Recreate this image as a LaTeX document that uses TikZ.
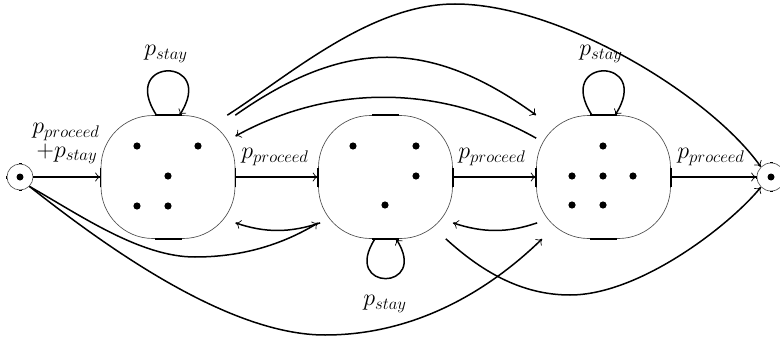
\documentclass[tikz,border=0pt]{standalone}
\usepackage{fix-cm}
\usetikzlibrary{arrows.meta,calc}
\tikzset{
  statebox/.style={draw=black!70, line width=0.65pt, rounded corners=52pt,
    minimum width=134pt, minimum height=123pt, inner sep=0pt},
  term/.style={circle, draw=black!70, line width=0.65pt, minimum size=26pt, inner sep=0pt},
  conn/.style={line width=1.5pt, -{To[length=5.5pt,width=9pt,line width=0.7pt]}},
  flat/.style={line width=1.6pt},
  lbl/.style={font=\fontsize{24}{28}\selectfont, inner sep=0pt}
}
\begin{document}
\begin{tikzpicture}[x=1pt,y=-1pt]
\useasboundingbox (0,0) rectangle (780,340);

% terminals
\node[term] (s) at (20,177) {};
\node[term, minimum size=28pt] (e) at (771,177) {};
\fill (s.center) circle (3.5);
\fill (e.center) circle (3.5);
\foreach \tm in {s,e}{
  \draw[flat] ($(\tm.north)+(-1.5,0)$) -- ($(\tm.north)+(1.5,0)$);
  \draw[flat] ($(\tm.south)+(-1.5,0)$) -- ($(\tm.south)+(1.5,0)$);
  \draw[flat] ($(\tm.west)+(0,-1.5)$) -- ($(\tm.west)+(0,1.5)$);
}

% state boxes
\node[statebox] (b1) at (168,177) {};
\node[statebox] (b2) at (385.5,177) {};
\node[statebox] (b3) at (603.5,177) {};
\foreach \bx in {b1,b2,b3}{
  \draw[flat] ($(\bx.north)+(-13.5,0)$) -- ($(\bx.north)+(13.5,0)$);
  \draw[flat] ($(\bx.south)+(-13.5,0)$) -- ($(\bx.south)+(13.5,0)$);
  \draw[flat] ($(\bx.west)+(0,-9.5)$) -- ($(\bx.west)+(0,9.5)$);
  \draw[flat] ($(\bx.east)+(0,-9.5)$) -- ($(\bx.east)+(0,9.5)$);
}

% dots (dice patterns)
\foreach \p in {(137,146),(198,146),(168,176),(137,206),(168,206),
                (353,146),(416,146),(416,176),(385,205),
                (603,146),(572,176),(603,176),(633,176),(572,205),(603,205)}
  \fill \p circle (3.6);

% straight transitions
\draw[conn] (s) -- (b1);
\draw[conn] (b1) -- (b2);
\draw[conn] (b2) -- (b3);
\draw[conn] (b3) -- (e);

% self loops
\draw[conn] ($(b1.north)+(-11.5,0)$) .. controls +(-38.5,-59) and +(38.5,-59) .. ($(b1.north)+(11.5,0)$);
\draw[conn] ($(b3.north)+(-11.5,0)$) .. controls +(-38.5,-59) and +(38.5,-59) .. ($(b3.north)+(11.5,0)$);
\draw[conn] ($(b2.south)+(-10.5,0)$) .. controls +(-34.5,53) and +(34.5,53) .. ($(b2.south)+(10.5,0)$);

% upper arcs
\draw[conn] ($(b1.north east)+(-8,0)$) .. controls (290,75) and (370,4) .. (455,4)
   .. controls (560,4) and (710,95) .. (e.north west);
\draw[conn] (b1.north east) .. controls (345,38) and (430,38) .. (b3.north west);
\draw[conn] ($(b3.north west)+(0,23)$) .. controls (440,84) and (330,84) .. ($(b1.north east)+(0,21)$);

% lower arcs
\draw[conn] ($(b2.south west)+(2,-16)$) .. controls (290,233) and (265,233) .. ($(b1.south east)+(0,-16)$);
\draw[conn] ($(b3.south west)+(1,-16)$) .. controls (508,233) and (483,233) .. ($(b2.south east)+(0,-16)$);
\draw[conn] (s.south east) .. controls (80,215) and (140,257) .. (195,257)
   .. controls (250,257) and (290,240) .. ($(b2.south west)+(0,-16)$);
\draw[conn] (s.south east) .. controls (110,250) and (230,335) .. (325,335)
   .. controls (430,335) and (505,275) .. ($(b3.south west)+(6,0)$);
\draw[conn] ($(b2.south east)+(-7,0)$) .. controls (480,270) and (520,295) .. (570,295)
   .. controls (640,295) and (730,225) .. (e.south west);

% labels
\node[lbl] (l12) at (275,157) {$p_{proceed}$};
\node[lbl] (l23) at (492,157) {$p_{proceed}$};
\node[lbl] (l3e) at (711,157) {$p_{proceed}$};
\node[lbl] (ls1) at (66,132) {$p_{proceed}$};
\node[lbl] (ls2) at (67,154) {$+p_{stay}$};
\node[lbl] (st1) at (166,54) {$p_{stay}$};
\node[lbl] (st3) at (601,54) {$p_{stay}$};
\node[lbl] (st2) at (385,304) {$p_{stay}$};
\end{tikzpicture}
\end{document}
